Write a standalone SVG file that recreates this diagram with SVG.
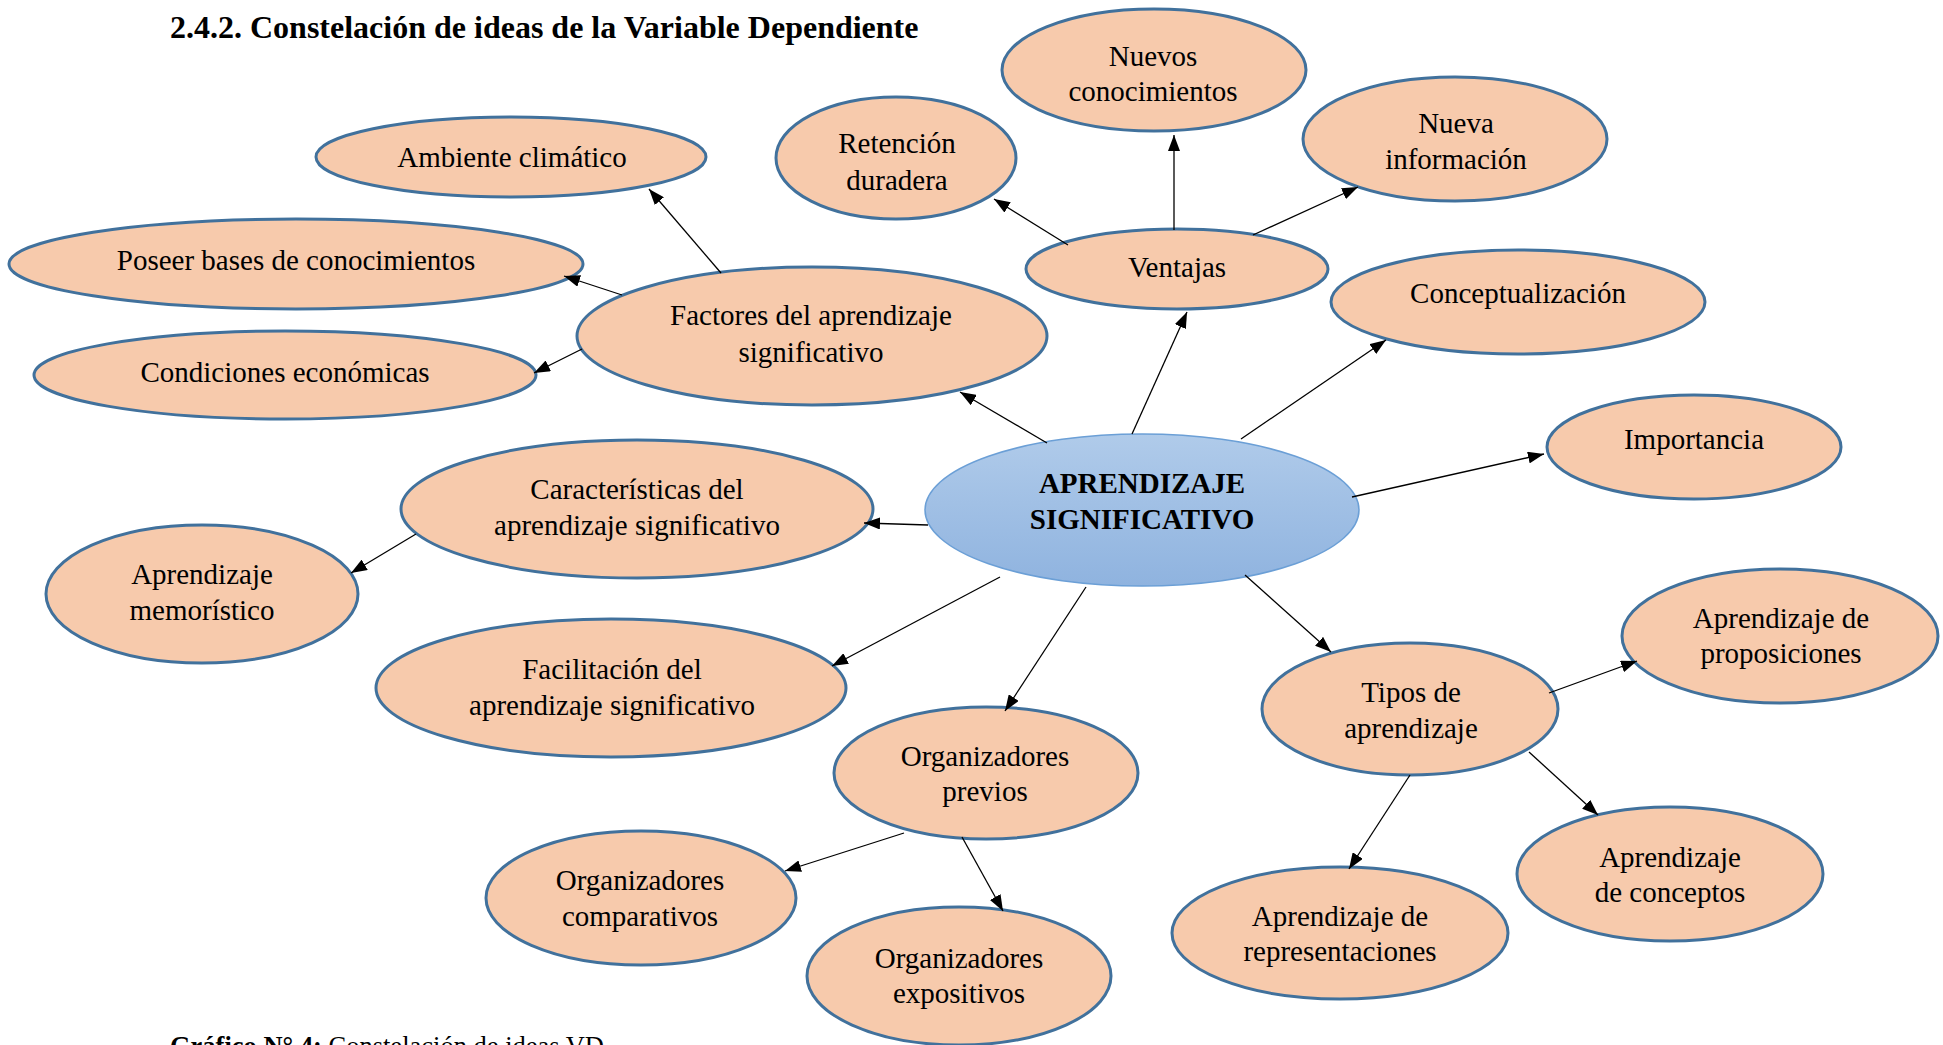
<svg xmlns="http://www.w3.org/2000/svg" width="1943" height="1045" viewBox="0 0 1943 1045">
<style>
.n{fill:#f7caac;stroke:#41719c;stroke-width:3}
.t{font-family:"Liberation Serif","Times New Roman",serif;font-size:29px;fill:#000;text-anchor:middle}
.c{stroke:#000;stroke-width:1.3;fill:none;marker-end:url(#ah)}
</style>
<defs>
<marker id="ah" markerUnits="userSpaceOnUse" viewBox="0 0 16 12" markerWidth="16" markerHeight="12" refX="16" refY="6" orient="auto">
<path d="M0,0 L16,6 L0,12 z" fill="#000"/>
</marker>
<linearGradient id="cg" x1="0" y1="0" x2="0" y2="1">
<stop offset="0" stop-color="#b0cbea"/>
<stop offset="1" stop-color="#8fb3df"/>
</linearGradient>
</defs>
<rect width="1943" height="1045" fill="#fff"/>
<text x="170" y="38" style="font-family:'Liberation Serif',serif;font-size:32px;font-weight:bold">2.4.2. Constelación de ideas de la Variable Dependiente</text>

<g id="n-center"><ellipse cx="1142" cy="510" rx="217" ry="76" fill="url(#cg)" stroke="#6b9fd6" stroke-width="1.5"/><text class="t" x="1142" y="493" font-weight="bold">APRENDIZAJE</text><text class="t" x="1142" y="529" font-weight="bold">SIGNIFICATIVO</text></g>
<g id="n-ambiente"><ellipse class="n" cx="511" cy="157" rx="195" ry="40"/><text class="t" x="512" y="167">Ambiente climático</text></g>
<g id="n-poseer"><ellipse class="n" cx="296" cy="264" rx="287" ry="45"/><text class="t" x="296" y="270">Poseer bases de conocimientos</text></g>
<g id="n-condiciones"><ellipse class="n" cx="285" cy="375" rx="251" ry="44"/><text class="t" x="285" y="382">Condiciones económicas</text></g>
<g id="n-factores"><ellipse class="n" cx="812" cy="336" rx="235" ry="69"/><text class="t" x="811" y="325">Factores del aprendizaje</text><text class="t" x="811" y="362">significativo</text></g>
<g id="n-retencion"><ellipse class="n" cx="896" cy="158" rx="120" ry="61"/><text class="t" x="897" y="153">Retención</text><text class="t" x="897" y="190">duradera</text></g>
<g id="n-nuevos"><ellipse class="n" cx="1154" cy="70" rx="152" ry="61"/><text class="t" x="1153" y="66">Nuevos</text><text class="t" x="1153" y="101">conocimientos</text></g>
<g id="n-nueva"><ellipse class="n" cx="1455" cy="139" rx="152" ry="62"/><text class="t" x="1456" y="133">Nueva</text><text class="t" x="1456" y="169">información</text></g>
<g id="n-ventajas"><ellipse class="n" cx="1177" cy="269" rx="151" ry="40"/><text class="t" x="1177" y="277">Ventajas</text></g>
<g id="n-concept"><ellipse class="n" cx="1518" cy="302" rx="187" ry="52"/><text class="t" x="1518" y="303">Conceptualización</text></g>
<g id="n-importancia"><ellipse class="n" cx="1694" cy="447" rx="147" ry="52"/><text class="t" x="1694" y="449">Importancia</text></g>
<g id="n-caracteristicas"><ellipse class="n" cx="637" cy="509" rx="236" ry="69"/><text class="t" x="637" y="499">Características del</text><text class="t" x="637" y="535">aprendizaje significativo</text></g>
<g id="n-memoristico"><ellipse class="n" cx="202" cy="594" rx="156" ry="69"/><text class="t" x="202" y="584">Aprendizaje</text><text class="t" x="202" y="620">memorístico</text></g>
<g id="n-facilitacion"><ellipse class="n" cx="611" cy="688" rx="235" ry="69"/><text class="t" x="612" y="679">Facilitación del</text><text class="t" x="612" y="715">aprendizaje significativo</text></g>
<g id="n-previos"><ellipse class="n" cx="986" cy="773" rx="152" ry="66"/><text class="t" x="985" y="766">Organizadores</text><text class="t" x="985" y="801">previos</text></g>
<g id="n-comparativos"><ellipse class="n" cx="641" cy="898" rx="155" ry="67"/><text class="t" x="640" y="890">Organizadores</text><text class="t" x="640" y="926">comparativos</text></g>
<g id="n-expositivos"><ellipse class="n" cx="959" cy="976" rx="152" ry="69"/><text class="t" x="959" y="968">Organizadores</text><text class="t" x="959" y="1003">expositivos</text></g>
<g id="n-tipos"><ellipse class="n" cx="1410" cy="709" rx="148" ry="66"/><text class="t" x="1411" y="702">Tipos de</text><text class="t" x="1411" y="738">aprendizaje</text></g>
<g id="n-proposiciones"><ellipse class="n" cx="1780" cy="636" rx="158" ry="67"/><text class="t" x="1781" y="628">Aprendizaje de</text><text class="t" x="1781" y="663">proposiciones</text></g>
<g id="n-conceptos"><ellipse class="n" cx="1670" cy="874" rx="153" ry="67"/><text class="t" x="1670" y="867">Aprendizaje</text><text class="t" x="1670" y="902">de conceptos</text></g>
<g id="n-representaciones"><ellipse class="n" cx="1340" cy="933" rx="168" ry="66"/><text class="t" x="1340" y="926">Aprendizaje de</text><text class="t" x="1340" y="961">representaciones</text></g>

<g id="connectors">
<line class="c" x1="1047" y1="443" x2="960" y2="392"/>
<line class="c" x1="1132" y1="434" x2="1187" y2="312"/>
<line class="c" x1="1241" y1="439" x2="1386" y2="340"/>
<line class="c" x1="1352" y1="497" x2="1544" y2="454"/>
<line class="c" x1="1245" y1="575" x2="1331" y2="652"/>
<line class="c" x1="1086" y1="587" x2="1005" y2="711"/>
<line class="c" x1="1000" y1="577" x2="832" y2="666"/>
<line class="c" x1="928" y1="525" x2="864" y2="523"/>
<line class="c" x1="416" y1="534" x2="351" y2="573"/>
<line class="c" x1="721" y1="273" x2="649" y2="189"/>
<line class="c" x1="622" y1="295" x2="564" y2="276"/>
<line class="c" x1="582" y1="349" x2="534" y2="373"/>
<line class="c" x1="1068" y1="245" x2="994" y2="199"/>
<line class="c" x1="1174" y1="230" x2="1174" y2="135"/>
<line class="c" x1="1253" y1="235" x2="1358" y2="187"/>
<line class="c" x1="1549" y1="693" x2="1637" y2="661"/>
<line class="c" x1="1529" y1="752" x2="1598" y2="815"/>
<line class="c" x1="1410" y1="775" x2="1349" y2="869"/>
<line class="c" x1="904" y1="833" x2="785" y2="871"/>
<line class="c" x1="962" y1="837" x2="1003" y2="911"/>
</g>

<text x="170" y="1055" style="font-family:'Liberation Serif',serif;font-size:26.5px"><tspan font-weight="bold">Gráfico N° 4:</tspan> Constelación de ideas VD</text>
</svg>
